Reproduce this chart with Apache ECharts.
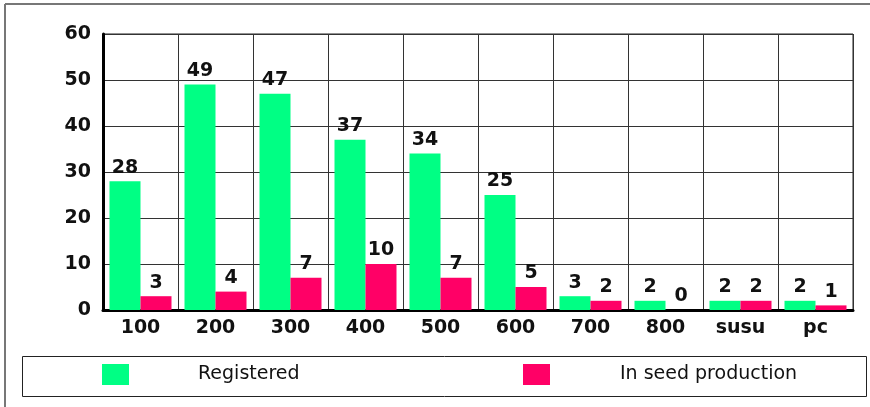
<!DOCTYPE html>
<html>
<head>
<meta charset="utf-8">
<script src="https://cdn.jsdelivr.net/npm/echarts@6/dist/echarts.min.js"></script>
<style>
  html, body { margin: 0; padding: 0; background: #fff; }
  #chart { width: 870px; height: 407px; }
</style>
</head>
<body>
<div id="chart"></div>
<script>
// data
const categories = ['100', '200', '300', '400', '500', '600', '700', '800', 'susu', 'pc']
const registered = [28, 49, 47, 37, 34, 25, 3, 2, 2, 2]
const inSeedProduction = [3, 4, 7, 10, 7, 5, 2, 0, 2, 1]
const yTicks = [0, 10, 20, 30, 40, 50, 60]

const FONT = 'DejaVu Sans, Verdana, sans-serif'

const chart = echarts.init(document.getElementById('chart'), null, { renderer: 'canvas' })

const labelStyle = {
  show: true,
  position: 'top',
  distance: 4,
  color: '#111',
  fontFamily: FONT,
  fontWeight: 'bold',
  fontSize: 19
}

const legendText = { fontSize: 19, fontFamily: FONT, color: '#111' }

const option = {
  animation: false,
  backgroundColor: '#fff',
  grid: {
    left: 103,
    right: 17,
    top: 34,
    bottom: 97,
    show: true,
    borderColor: '#222',
    borderWidth: 1
  },
  // two legends so each item sits where it does in the picture
  legend: [
    {
      data: ['Registered'],
      left: 102,
      top: 364,
      padding: 0,
      itemWidth: 27,
      itemHeight: 21,
      icon: 'rect',
      textStyle: Object.assign({ padding: [0, 0, 0, 64] }, legendText)
    },
    {
      data: ['In seed production'],
      left: 523,
      top: 364,
      padding: 0,
      itemWidth: 27,
      itemHeight: 21,
      icon: 'rect',
      textStyle: Object.assign({ padding: [0, 0, 0, 65] }, legendText)
    }
  ],
  graphic: [
    // legend box
    { type: 'rect', left: 20, top: 354, shape: { width: 844, height: 40 }, style: { fill: 'none', stroke: '#222', lineWidth: 1 }, z: -1 },
    // outer frame (only top and left show)
    { type: 'line', shape: { x1: 5, y1: 4, x2: 870, y2: 4 }, style: { stroke: '#777', lineWidth: 2 } },
    { type: 'line', shape: { x1: 5, y1: 4, x2: 5, y2: 407 }, style: { stroke: '#777', lineWidth: 2 } }
  ],
  xAxis: {
    type: 'category',
    data: categories,
    axisLine: { show: true, lineStyle: { color: '#000', width: 3 } },
    axisTick: { show: false },
    splitLine: { show: true, interval: 0, lineStyle: { color: '#333', width: 1 } },
    axisLabel: {
      margin: 9,
      color: '#111',
      fontFamily: FONT,
      fontWeight: 'bold',
      fontSize: 19,
      interval: 0
    }
  },
  yAxis: {
    type: 'value',
    min: yTicks[0],
    max: yTicks[yTicks.length - 1],
    interval: 10,
    axisLine: { show: true, lineStyle: { color: '#000', width: 3 } },
    axisTick: { show: false },
    splitLine: { show: true, lineStyle: { color: '#333', width: 1 } },
    axisLabel: {
      margin: 12,
      color: '#111',
      fontFamily: FONT,
      fontWeight: 'bold',
      fontSize: 19
    }
  },
  series: [
    {
      name: 'Registered',
      type: 'bar',
      data: registered,
      barWidth: 31,
      barGap: '0%',
      itemStyle: { color: '#00FF84' },
      label: labelStyle
    },
    {
      name: 'In seed production',
      type: 'bar',
      data: inSeedProduction,
      barWidth: 31,
      itemStyle: { color: '#FF0066' },
      label: labelStyle
    }
  ]
}

chart.setOption(option)
</script>
</body>
</html>
